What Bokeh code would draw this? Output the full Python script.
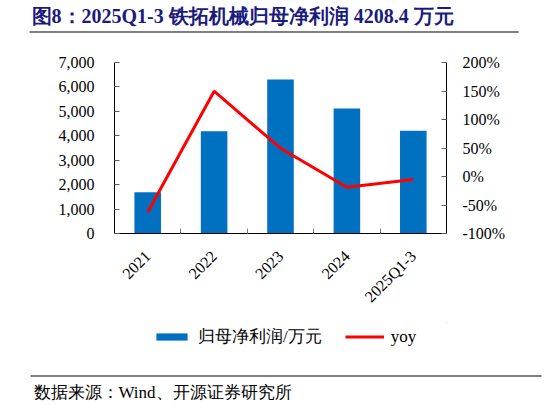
import math

from bokeh.plotting import figure
from bokeh.layouts import column, row
from bokeh.core.properties import value
from bokeh.models import (
    ColumnDataSource,
    Range1d,
    LinearAxis,
    FixedTicker,
    NumeralTickFormatter,
    PrintfTickFormatter,
    Legend,
    LegendItem,
)
from bokeh.embed import file_html
from bokeh.resources import INLINE

# data
years = ["2021", "2022", "2023", "2024", "2025Q1-3"]
net_profit = [1690, 4190, 6300, 5120, 4208.4]  # 归母净利润, 万元
yoy_pct = [-62.6, 149.6, 49.7, -18.8, -5.3]  # yoy, %
left_ticks = [0, 1000, 2000, 3000, 4000, 5000, 6000, 7000]
right_ticks = [-100, -50, 0, 50, 100, 150, 200]

title_text = "图8：2025Q1-3 铁拓机械归母净利润 4208.4 万元"
bar_label = "归母净利润/万元"
line_label = "yoy"
source_text = "数据来源：Wind、开源证券研究所"

SERIF = "Liberation Serif"
BLUE = "#0070C0"
RED = "#FF0000"
W = 546


def blank_fig(height):
    # frame covers the whole canvas, y grows downwards like page pixels
    f = figure(
        width=W, height=height,
        x_range=Range1d(0, W), y_range=Range1d(height, 0),
        x_axis_type=None, y_axis_type=None,
        output_backend="svg", toolbar_location=None, tools="",
        min_border=0,
    )
    f.outline_line_color = None
    return f


# ---- header: title with a rule under it
head = blank_fig(40)
head.text(
    x=[31], y=[15], text=[title_text],
    text_baseline="middle", text_align="left",
    text_font=value(SERIF), text_font_style="bold",
    text_font_size=value("20px"), text_color="#1B1B7E",
)
head.segment(x0=[29], y0=[31.5], x1=[518], y1=[31.5], line_color="black", line_width=1.2)

# ---- chart
centers = [i + 0.5 for i in range(len(years))]
bounds = [float(i) for i in range(len(years) + 1)]
source = ColumnDataSource(data=dict(x=centers, year=years, profit=net_profit, yoy=yoy_pct))

p = figure(
    width=W,
    height=282,
    x_range=Range1d(0, len(years)),
    y_range=Range1d(left_ticks[0], left_ticks[-1]),
    output_backend="svg",
    toolbar_location=None,
    tools="",
    min_border_left=114,
    min_border_right=100,
    min_border_top=22,
    min_border_bottom=89,
)
p.outline_line_color = None
p.xgrid.grid_line_color = None
p.ygrid.grid_line_color = None
p.extra_y_ranges = {"yoy": Range1d(right_ticks[0], right_ticks[-1])}

bar_kw = dict(fill_color=BLUE, line_color=None)
line_kw = dict(line_color=RED, line_width=3)
p.vbar(x="x", top="profit", width=0.4, source=source, **bar_kw)
p.line(x="x", y="yoy", source=source, y_range_name="yoy", **line_kw)

# x axis: labels at centres, small ticks at category boundaries
xa = p.xaxis[0]
xa.ticker = FixedTicker(ticks=centers, minor_ticks=bounds)
xa.major_label_overrides = {c: y for c, y in zip(centers, years)}
xa.major_tick_in = 0
xa.major_tick_out = 0
xa.minor_tick_in = 5
xa.minor_tick_out = 0
xa.minor_tick_line_color = "#808080"
xa.axis_line_color = "black"
xa.major_label_orientation = math.pi / 4
xa.major_label_standoff = 20
xa.major_label_text_font = SERIF
xa.major_label_text_font_size = "16px"
xa.major_label_text_color = "black"

ya = p.yaxis[0]
ya.ticker = FixedTicker(ticks=left_ticks)
ya.formatter = NumeralTickFormatter(format="0,0")

ra = LinearAxis(
    y_range_name="yoy",
    ticker=FixedTicker(ticks=right_ticks),
    formatter=PrintfTickFormatter(format="%d%%"),
)
p.add_layout(ra, "right")

for ax in (ya, ra):
    ax.major_tick_in = 5
    ax.major_tick_out = 0
    ax.minor_tick_line_color = None
    ax.major_tick_line_color = "#606060"
    ax.axis_line_color = "black"
    ax.major_label_text_font = SERIF
    ax.major_label_text_font_size = "16px"
    ax.major_label_text_color = "black"
ya.major_label_standoff = 20
ra.major_label_standoff = 16

# ---- legend strip: same glyph styles, data kept out of view so only the legend shows
lg = figure(
    width=W, height=33,
    x_range=Range1d(-2, -1), y_range=Range1d(-2, -1),
    x_axis_type=None, y_axis_type=None,
    output_backend="svg", toolbar_location=None, tools="",
    min_border_left=114, min_border_right=100, min_border_top=0, min_border_bottom=0,
)
lg.outline_line_color = None
lg_bar = lg.vbar(x="x", top="profit", width=0.4, source=source, **bar_kw)
lg_line = lg.line(x="x", y="yoy", source=source, **line_kw)
legend = Legend(
    items=[
        LegendItem(label=bar_label, renderers=[lg_bar]),
        LegendItem(label=line_label, renderers=[lg_line]),
    ],
    orientation="horizontal",
    location=(38, 7),
    glyph_width=39,
    glyph_height=9,
    label_standoff=7,
    spacing=23,
    padding=0,
    margin=0,
    border_line_color=None,
    background_fill_alpha=0,
    label_text_font=SERIF,
    label_text_font_size="17px",
    label_text_color="black",
)
lg.add_layout(legend, "center")

# ---- footer: rule and source note
foot = blank_fig(50)
foot.segment(x0=[30], y0=[20.5], x1=[541], y1=[20.5], line_color="black", line_width=1.2)
foot.text(
    x=[33], y=[37], text=[source_text],
    text_baseline="middle", text_align="left",
    text_font=value(SERIF), text_font_size=value("17px"), text_color="black",
)

# header / footer wrapped in rows so their frames are not lined up with the chart's
layout = column(row(head), p, lg, row(foot), spacing=0)
open("out.html", "w").write(file_html(layout, INLINE))
